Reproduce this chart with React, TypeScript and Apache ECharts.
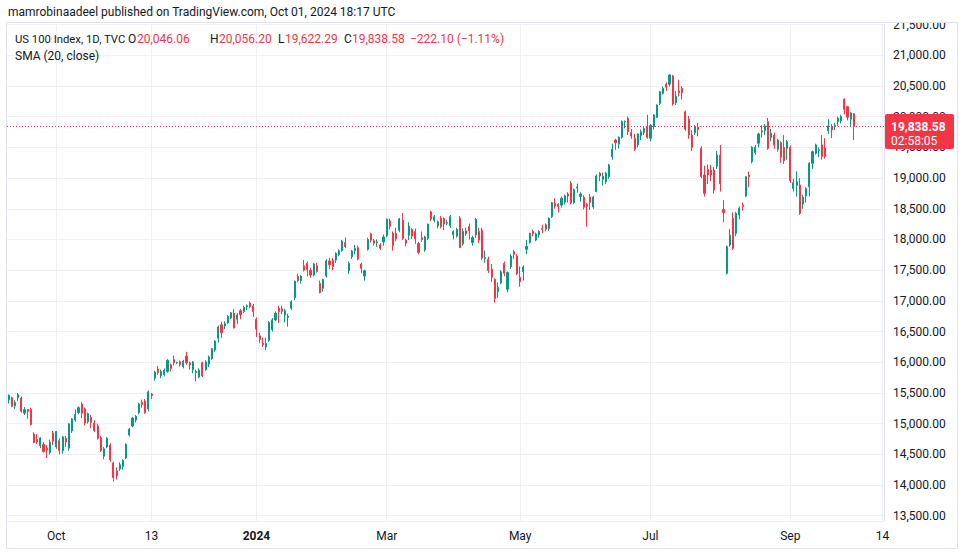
import React, { useEffect, useRef } from 'react';
import * as echarts from 'echarts';

// ---- calendar ----
const firstDay = '2023-09-11';
const lastAxisDay = '2024-10-14';
const marketHolidays = [
  '2023-11-23', '2023-12-25', '2024-01-01', '2024-01-15', '2024-02-19',
  '2024-03-29', '2024-05-27', '2024-06-19', '2024-07-04', '2024-09-02',
];

// time-axis tick labels (date -> label)
const timeTickDates = ['2023-10-02', '2023-11-13', '2024-01-02', '2024-03-01', '2024-05-01', '2024-07-01', '2024-09-03', '2024-10-14'];
const timeTickLabels = ['Oct', '13', '2024', 'Mar', 'May', 'Jul', 'Sep', '14'];

// ---- OHLC, each row: [open, close, low, high] ----
const sep23 = [
  [15390, 15461, 15330, 15475], [15420, 15283, 15270, 15440], [15290, 15345, 15240, 15380],
  [15420, 15473, 15370, 15500], [15417, 15202, 15180, 15440], [15170, 15228, 15140, 15270],
  [15230, 15198, 15080, 15240], [15230, 14984, 14970, 15260], [14830, 14694, 14680, 14860],
  [14740, 14701, 14670, 14830], [14640, 14768, 14600, 14780], [14660, 14546, 14530, 14700],
  [14600, 14571, 14440, 14650], [14530, 14695, 14500, 14740], [14850, 14715, 14650, 14880],
];
const oct23 = [
  [14620, 14870, 14590, 14880], [14720, 14565, 14500, 14760], [14560, 14784, 14510, 14800],
  [14760, 14700, 14620, 14800], [14600, 14996, 14560, 15010], [14880, 15076, 14850, 15090],
  [15060, 15150, 15030, 15230], [15180, 15260, 15150, 15280], [15320, 15170, 15090, 15350],
  [15240, 15010, 14970, 15260], [15030, 15160, 15000, 15180], [15100, 15020, 14930, 15140],
  [15010, 14890, 14860, 15060], [14960, 14760, 14740, 15000], [14770, 14560, 14540, 14800],
  [14470, 14590, 14420, 14620], [14620, 14760, 14600, 14780], [14650, 14410, 14380, 14680],
  [14360, 14120, 14060, 14380], [14230, 14150, 14090, 14290], [14260, 14330, 14230, 14370],
  [14300, 14400, 14250, 14420],
];
const nov23 = [
  [14440, 14660, 14420, 14680], [14815, 14910, 14790, 14930], [14960, 15090, 14940, 15110],
  [15060, 15120, 15020, 15140], [15180, 15320, 15150, 15340], [15350, 15310, 15260, 15390],
  [15370, 15180, 15160, 15400], [15240, 15520, 15200, 15540], [15480, 15460, 15400, 15500],
  [15740, 15840, 15700, 15860], [15890, 15830, 15790, 15940], [15780, 15850, 15740, 15880],
  [15800, 15870, 15770, 15900], [15850, 16030, 15830, 16050], [15960, 15900, 15850, 15980],
  [16040, 15990, 15950, 16110], [15990, 15995, 15970, 16010], [16010, 15960, 15930, 16030],
  [15930, 16020, 15900, 16040], [16100, 15990, 15960, 16170], [15990, 15955, 15880, 16010],
];
const dec23 = [
  [15880, 16005, 15820, 16020], [15830, 15850, 15690, 15880], [15760, 15870, 15740, 15900],
  [15990, 15780, 15760, 16010], [15880, 16005, 15860, 16030], [15970, 16085, 15920, 16110],
  [16060, 16220, 16040, 16230], [16200, 16345, 16170, 16360], [16390, 16575, 16320, 16600],
  [16610, 16480, 16400, 16660], [16590, 16630, 16540, 16670], [16640, 16745, 16620, 16770],
  [16720, 16805, 16700, 16820], [16800, 16560, 16550, 16865], [16700, 16770, 16620, 16800],
  [16840, 16775, 16700, 16870], [16825, 16895, 16800, 16920], [16905, 16920, 16850, 16940],
  [16965, 16905, 16880, 16990], [16915, 16825, 16740, 16950],
];
const jan24 = [
  [16700, 16540, 16410, 16730], [16430, 16370, 16310, 16480], [16310, 16285, 16250, 16400],
  [16250, 16305, 16200, 16400], [16360, 16650, 16330, 16670], [16530, 16690, 16500, 16720],
  [16690, 16800, 16670, 16830], [16880, 16825, 16640, 16920], [16870, 16830, 16780, 16920],
  [16770, 16840, 16650, 16870], [16730, 16750, 16580, 16790], [16880, 16985, 16850, 17010],
  [17050, 17320, 17010, 17330], [17400, 17330, 17300, 17440], [17330, 17400, 17280, 17420],
  [17570, 17500, 17480, 17665], [17610, 17510, 17400, 17640], [17500, 17420, 17380, 17540],
  [17420, 17600, 17400, 17620], [17570, 17480, 17460, 17620], [17285, 17135, 17120, 17330],
];
const feb24 = [
  [17205, 17350, 17150, 17360], [17405, 17650, 17380, 17680], [17650, 17590, 17520, 17700],
  [17660, 17560, 17500, 17700], [17665, 17775, 17620, 17790], [17755, 17815, 17730, 17840],
  [17820, 17975, 17800, 17990], [17950, 17885, 17860, 18035], [17490, 17610, 17440, 17640],
  [17720, 17810, 17680, 17830], [17820, 17855, 17760, 17910], [17866, 17680, 17660, 17900],
  [17600, 17530, 17450, 17620], [17405, 17490, 17330, 17510], [17840, 18000, 17820, 18030],
  [18090, 17990, 17950, 18110], [17980, 17940, 17900, 18010], [17950, 17960, 17880, 18000],
  [17910, 17855, 17830, 17940], [17960, 18040, 17900, 18080],
];
const mar24 = [
  [18060, 18330, 18040, 18340], [18300, 18215, 18160, 18340], [18105, 17900, 17820, 18130],
  [18100, 18010, 17970, 18190], [18150, 18335, 18120, 18350], [18310, 18020, 17990, 18430],
  [17990, 17940, 17890, 18010], [18070, 18220, 17990, 18280], [18165, 18055, 18010, 18190],
  [18130, 18010, 17930, 18180], [17935, 17790, 17760, 17960], [18030, 18000, 17960, 18130],
  [17830, 18040, 17800, 18060], [18020, 18250, 17990, 18260], [18450, 18335, 18300, 18470],
  [18310, 18370, 18280, 18400], [18220, 18290, 18180, 18310], [18345, 18210, 18180, 18380],
  [18340, 18250, 18150, 18360], [18265, 18275, 18230, 18320],
];
const apr24 = [
  [18225, 18370, 18190, 18400], [18075, 18130, 18000, 18150], [18055, 18165, 18030, 18190],
  [18345, 17870, 17860, 18380], [17930, 18130, 17900, 18180], [18140, 18090, 18060, 18190],
  [18210, 18140, 18000, 18260], [17950, 18030, 17900, 18060], [18073, 18330, 18030, 18350],
  [18130, 17990, 17940, 18190], [18150, 17695, 17670, 18190], [17690, 17705, 17620, 17820],
  [17677, 17495, 17450, 17720], [17514, 17385, 17310, 17600], [17350, 17040, 16970, 17370],
  [17150, 17220, 17050, 17300], [17296, 17475, 17270, 17500], [17610, 17450, 17400, 17640],
  [17190, 17460, 17140, 17480], [17557, 17730, 17520, 17760], [17800, 17760, 17680, 17830],
  [17730, 17440, 17420, 17760],
];
const may24 = [
  [17384, 17312, 17230, 17560], [17475, 17550, 17330, 17580], [17840, 17890, 17760, 17990],
  [17950, 18100, 17930, 18110], [18130, 18090, 18050, 18160], [17990, 18090, 17970, 18110],
  [18080, 18130, 18030, 18150], [18180, 18165, 18100, 18240], [18240, 18170, 18130, 18260],
  [18180, 18345, 18140, 18360], [18370, 18600, 18350, 18610], [18590, 18545, 18500, 18670],
  [18575, 18535, 18440, 18590], [18560, 18670, 18520, 18700], [18610, 18710, 18570, 18730],
  [18740, 18710, 18600, 18770], [18915, 18595, 18570, 18950], [18600, 18810, 18580, 18830],
  [18840, 18855, 18760, 18910], [18700, 18740, 18620, 18770], [18687, 18525, 18490, 18720],
  [18570, 18540, 18210, 18600],
];
const jun24 = [
  [18690, 18600, 18480, 18740], [18530, 18690, 18500, 18710], [18780, 19035, 18770, 19060],
  [19080, 19035, 18950, 19100], [18980, 19030, 18880, 19090], [18940, 19080, 18900, 19100],
  [19023, 19213, 18990, 19230], [19348, 19469, 19300, 19560], [19620, 19575, 19460, 19640],
  [19555, 19665, 19480, 19680], [19665, 19920, 19640, 19940], [19915, 19920, 19810, 19940],
  [19975, 19756, 19700, 20000], [19740, 19685, 19640, 19800], [19645, 19470, 19440, 19720],
  [19540, 19718, 19500, 19730], [19690, 19755, 19620, 19790], [19740, 19810, 19700, 19830],
  [19840, 19665, 19640, 20030],
];
const jul24 = [
  [19650, 19860, 19600, 19880], [19837, 20027, 19790, 20040], [19990, 20190, 19980, 20200],
  [20218, 20407, 20190, 20420], [20380, 20460, 20360, 20490], [20530, 20480, 20420, 20560],
  [20530, 20680, 20490, 20690], [20663, 20206, 20180, 20680], [20225, 20335, 20190, 20420],
  [20420, 20390, 20330, 20600], [20460, 20390, 20280, 20500], [20080, 19795, 19770, 20100],
  [19957, 19702, 19640, 20010], [19700, 19500, 19440, 19780], [19740, 19840, 19700, 19860],
  [19830, 19790, 19680, 19900], [19485, 19023, 19000, 19520], [19050, 18752, 18700, 19200],
  [19140, 19050, 18900, 19220], [19130, 19050, 18950, 19215], [19130, 18806, 18750, 19180],
  [19197, 19376, 19150, 19440],
];
const aug24 = [
  [19376, 18904, 18780, 19540], [18490, 18436, 18280, 18640], [17449, 17882, 17430, 17900],
  [17910, 18070, 17880, 18170], [18345, 17856, 17830, 18440], [18100, 18426, 18050, 18450],
  [18400, 18510, 18330, 18540], [18560, 18540, 18470, 18600], [18708, 19023, 18690, 19030],
  [19050, 19023, 18850, 19105], [19267, 19500, 19240, 19520], [19415, 19500, 19380, 19540],
  [19567, 19718, 19500, 19740], [19770, 19750, 19660, 19860], [19770, 19850, 19700, 19880],
  [19919, 19485, 19460, 19980], [19660, 19730, 19600, 19800], [19700, 19540, 19480, 19740],
  [19470, 19620, 19430, 19640], [19577, 19339, 19250, 19600], [19500, 19283, 19230, 19700],
  [19485, 19593, 19300, 19620],
];
const sep24 = [
  [19500, 18957, 18920, 19530], [18830, 18925, 18780, 18990], [18880, 18940, 18700, 19110],
  [18887, 18426, 18400, 19000], [18578, 18687, 18500, 18730], [18710, 18830, 18600, 18850],
  [18860, 19241, 18700, 19260], [19240, 19430, 19150, 19450], [19403, 19540, 19380, 19560],
  [19450, 19460, 19340, 19500], [19540, 19350, 19300, 19700], [19490, 19350, 19320, 19650],
  [19775, 19850, 19720, 19960], [19840, 19785, 19650, 19880], [19860, 19865, 19780, 19900],
  [19920, 19975, 19850, 20000], [19935, 20000, 19890, 20030], [20283, 20120, 20040, 20300],
  [20163, 19990, 19940, 20180], [19957, 20060.68, 19850, 20075],
];
const oct24 = [[20046.06, 19838.58, 19622.29, 20056.2]];

const lastClose = 19838.58;
const legendValues = { o: '20,046.06', h: '20,056.20', l: '19,622.29', c: '19,838.58', chg: '\u2212222.10 (\u22121.11%)' };
const countdown = '02:58:05';

const UP = '#089981';
const DOWN = '#f23645';
const TEXT = '#131722';
const GRID = '#eef0f4';
const FONT = 'Roboto, "Noto Sans", "Liberation Sans", sans-serif';

function tradingDays(start: string, end: string, skip: string[]) {
  const out: string[] = [];
  const d = new Date(start + 'T00:00:00Z');
  const e = new Date(end + 'T00:00:00Z');
  while (d <= e) {
    const wd = d.getUTCDay();
    const s = d.toISOString().slice(0, 10);
    if (wd !== 0 && wd !== 6 && skip.indexOf(s) < 0) out.push(s);
    d.setUTCDate(d.getUTCDate() + 1);
  }
  return out;
}

export default function App() {
  const ref = useRef<HTMLDivElement>(null);
  useEffect(() => {
    if (!ref.current) return;
    const chart = echarts.init(ref.current, undefined, { renderer: 'svg' });
    const categories = tradingDays(firstDay, lastAxisDay, marketHolidays);
    const ohlc = [
      ...sep23, ...oct23, ...nov23, ...dec23, ...jan24, ...feb24, ...mar24,
      ...apr24, ...may24, ...jun24, ...jul24, ...aug24, ...sep24, ...oct24,
    ];
    const tickMap: Record<string, string> = {};
    timeTickDates.forEach((d, i) => { tickMap[d] = timeTickLabels[i]; });
    const isTick = (_i: number, v: string) => Object.prototype.hasOwnProperty.call(tickMap, v);

    const txt = (x: number, y: number, text: string, fill: string, size = 12) => ({
      type: 'text', x, y, z: 50,
      style: { text, fill, font: `${size}px ${FONT}`, textVerticalAlign: 'middle' },
    });

    chart.setOption({
      animation: false,
      backgroundColor: '#ffffff',
      grid: { left: 7, right: 78, top: 24, bottom: 36 },
      xAxis: {
        type: 'category',
        data: categories,
        boundaryGap: true,
        axisLine: { show: false },
        axisTick: { show: false },
        axisLabel: {
          interval: isTick,
          margin: 9,
          color: TEXT,
          fontSize: 12,
          fontFamily: FONT,
          formatter: (v: string) => (v === '2024-01-02' ? '{b|2024}' : tickMap[v] || ''),
          rich: { b: { fontWeight: 'bold', fontSize: 12, fontFamily: FONT, color: TEXT } },
        },
        splitLine: { show: true, interval: isTick, alignWithLabel: true, lineStyle: { color: GRID, width: 1 } },
      },
      yAxis: {
        type: 'value',
        position: 'right',
        min: 13414,
        max: 21510,
        splitNumber: 16,
        minInterval: 500,
        maxInterval: 500,
        axisLine: { show: true, lineStyle: { color: '#e0e3eb' } },
        axisTick: { show: false },
        axisLabel: {
          showMinLabel: false,
          showMaxLabel: false,
          margin: 9,
          color: TEXT,
          fontSize: 12,
          fontFamily: FONT,
          formatter: (v: number) => v.toLocaleString('en-US', { minimumFractionDigits: 2, maximumFractionDigits: 2 }),
        },
        splitLine: { show: true, lineStyle: { color: GRID, width: 1 } },
      },
      series: [
        {
          type: 'candlestick',
          data: ohlc,
          barWidth: 1.6,
          itemStyle: { color: UP, color0: DOWN, borderColor: UP, borderColor0: DOWN, borderWidth: 1 },
          markLine: {
            silent: true,
            symbol: ['none', 'none'],
            label: { show: false },
            lineStyle: { color: DOWN, type: [1, 2], width: 1 },
            data: [{ yAxis: lastClose }],
          },
        },
      ],
      graphic: [
        { type: 'rect', z: 40, shape: { x: 885, y: 0, width: 77, height: 22.5 }, style: { fill: '#ffffff' } },
        { type: 'rect', z: 41, shape: { x: 6.5, y: 22.5, width: 951, height: 526 }, style: { fill: 'none', stroke: '#e0e3eb', lineWidth: 1 } },
        txt(8, 12, 'mamrobinaadeel published on TradingView.com, Oct 01, 2024 18:17 UTC', TEXT),
        txt(15, 39, 'US 100 Index, 1D, TVC', TEXT, 11.3),
        txt(128, 39, 'O', TEXT),
        txt(137, 39, legendValues.o, DOWN),
        txt(210, 39, 'H', TEXT),
        txt(219, 39, legendValues.h, DOWN),
        txt(278, 39, 'L', TEXT),
        txt(285, 39, legendValues.l, DOWN),
        txt(344, 39, 'C', TEXT),
        txt(352, 39, legendValues.c, DOWN),
        txt(410, 39, legendValues.chg, DOWN),
        txt(15, 56, 'SMA (20, close)', TEXT),
        { type: 'rect', z: 60, shape: { x: 885, y: 114, width: 69, height: 35, r: 2 }, style: { fill: DOWN } },
        { type: 'text', x: 891, y: 126.5, z: 61, style: { text: legendValues.c, fill: '#ffffff', font: `bold 12px ${FONT}`, textVerticalAlign: 'middle' } },
        { type: 'text', x: 891, y: 141, z: 61, style: { text: countdown, fill: '#ffffff', font: `12px ${FONT}`, textVerticalAlign: 'middle' } },
      ],
    });
    return () => chart.dispose();
  }, []);
  return <div ref={ref} style={{ position: 'fixed', left: 0, top: 0, width: 962, height: 557 }} />;
}
